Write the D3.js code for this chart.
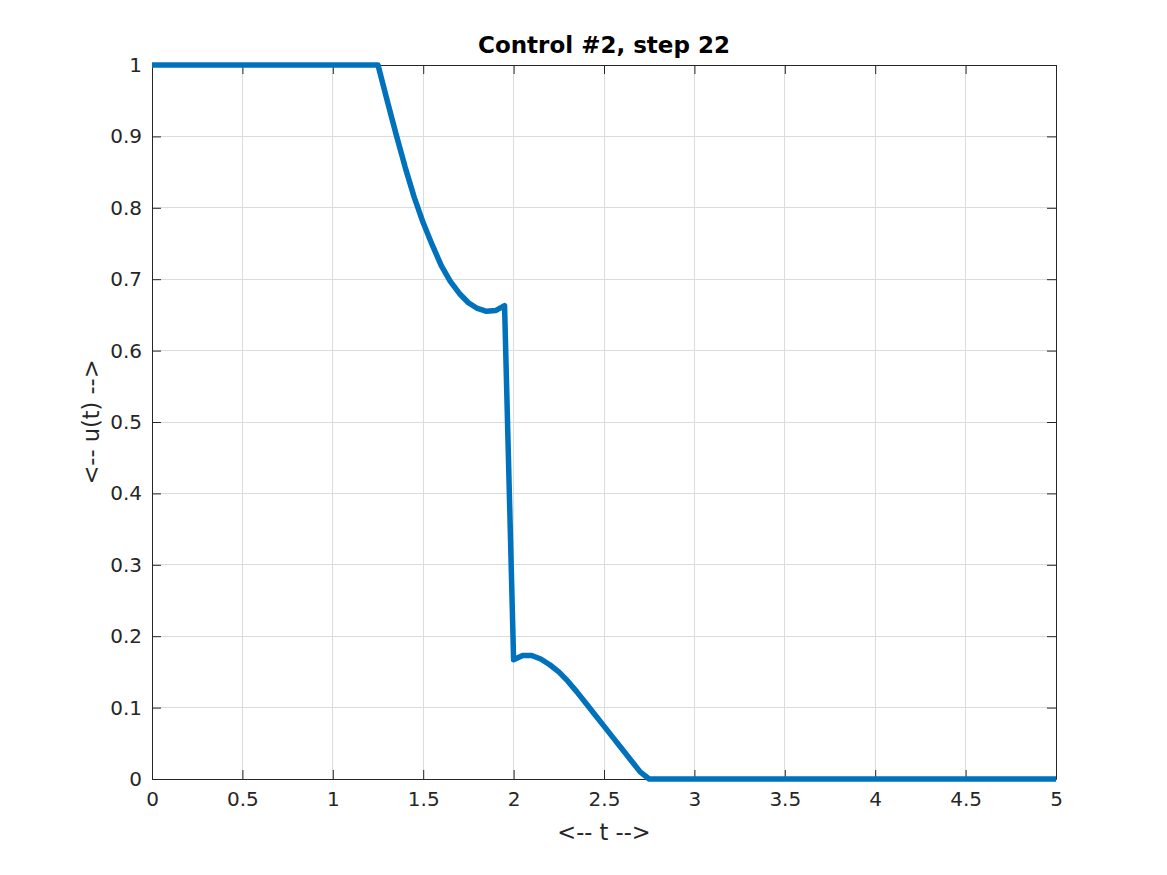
<!DOCTYPE html>
<html><head><meta charset="utf-8">
<script src="https://cdn.jsdelivr.net/npm/d3@7"></script>
<style>body{margin:0;background:#fff}svg{display:block}text{font-family:"DejaVu Sans",sans-serif}</style>
</head><body>
<svg id="c" width="1167" height="875"></svg>
<script>
const tValues = [0, 1.25, 1.30, 1.35, 1.40, 1.45, 1.50, 1.55, 1.60, 1.65, 1.70, 1.75, 1.80, 1.85, 1.90, 1.95,
  2.00, 2.05, 2.10, 2.15, 2.20, 2.25, 2.30, 2.35, 2.40, 2.45, 2.50, 2.55, 2.60, 2.65, 2.70, 2.75, 5];
const uValues = [1, 1, 0.951, 0.903, 0.857, 0.815, 0.779, 0.748, 0.719, 0.697, 0.680, 0.667, 0.659, 0.655, 0.656, 0.663,
  0.167, 0.173, 0.173, 0.168, 0.160, 0.150, 0.137, 0.122, 0.106, 0.090, 0.074, 0.058, 0.042, 0.026, 0.010, 0, 0];
const xTicks = [0, 0.5, 1, 1.5, 2, 2.5, 3, 3.5, 4, 4.5, 5];
const yTicks = [0, 0.1, 0.2, 0.3, 0.4, 0.5, 0.6, 0.7, 0.8, 0.9, 1];
const titleText = "Control #2, step 22";
const xLabel = "<-- t -->";
const yLabel = "<-- u(t) -->";

const L = 152, R = 1056, T = 65, B = 779;
const x = d3.scaleLinear().domain([0, 5]).range([L, R]);
const y = d3.scaleLinear().domain([0, 1]).range([B, T]);
const svg = d3.select("#c");
const tk = 9;

// grid
svg.append("g").selectAll("line").data(xTicks).join("line")
  .attr("x1", d => x(d)).attr("x2", d => x(d)).attr("y1", T).attr("y2", B)
  .attr("stroke", "#dcdcdc").attr("stroke-width", 1).attr("shape-rendering", "crispEdges");
svg.append("g").selectAll("line").data(yTicks).join("line")
  .attr("x1", L).attr("x2", R).attr("y1", d => y(d)).attr("y2", d => y(d))
  .attr("stroke", "#dcdcdc").attr("stroke-width", 1).attr("shape-rendering", "crispEdges");

// axes with inward ticks
const fmt = d => d3.format("")(d);
const gx = svg.append("g").attr("transform", `translate(0,${B})`)
  .call(d3.axisBottom(x).tickValues(xTicks).tickFormat(fmt).tickSizeInner(-tk).tickSizeOuter(0).tickPadding(13));
const gxt = svg.append("g").attr("transform", `translate(0,${T})`)
  .call(d3.axisTop(x).tickValues(xTicks).tickFormat("").tickSizeInner(-tk).tickSizeOuter(0));
const gy = svg.append("g").attr("transform", `translate(${L},0)`)
  .call(d3.axisLeft(y).tickValues(yTicks).tickFormat(fmt).tickSizeInner(-tk).tickSizeOuter(0).tickPadding(10));
const gyr = svg.append("g").attr("transform", `translate(${R},0)`)
  .call(d3.axisRight(y).tickValues(yTicks).tickFormat("").tickSizeInner(-tk).tickSizeOuter(0));
[gx, gxt, gy, gyr].forEach(g => {
  g.attr("font-size", 20).attr("font-family", "DejaVu Sans");
  g.selectAll(".domain").attr("stroke", "#262626");
  g.selectAll(".tick line").attr("stroke", "#262626");
  g.selectAll("text").attr("fill", "#262626");
});

// line
const line = d3.line().x((d, i) => x(tValues[i])).y((d, i) => y(uValues[i]));
svg.append("path").datum(uValues).attr("d", line)
  .attr("fill", "none").attr("stroke", "#0072BD").attr("stroke-width", 5.5).attr("stroke-linejoin", "round");

// labels
svg.append("text").attr("x", (L + R) / 2).attr("y", 53).attr("text-anchor", "middle")
  .attr("font-size", 23).attr("font-weight", "bold").attr("fill", "#000").text(titleText);
svg.append("text").attr("x", (L + R) / 2).attr("y", 840).attr("text-anchor", "middle")
  .attr("font-size", 22.5).attr("fill", "#262626").text(xLabel);
svg.append("text").attr("transform", `translate(99,${(T + B) / 2}) rotate(-90)`).attr("text-anchor", "middle")
  .attr("font-size", 22.5).attr("fill", "#262626").text(yLabel);
</script>
</body></html>
